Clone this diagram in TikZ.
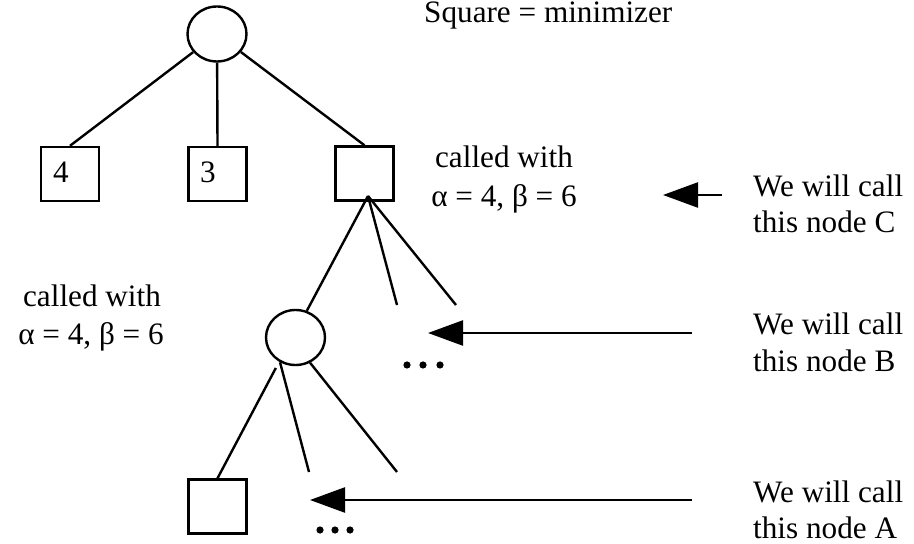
\documentclass[tikz,border=0pt]{standalone}
\usepackage{fontspec}
\setmainfont{Liberation Serif}
\usetikzlibrary{shapes.geometric,arrows.meta,calc}
\begin{document}
\begin{tikzpicture}[x=0.5pt,y=-0.5pt,line width=1.2pt,
  maxnode/.style={draw,ellipse,minimum width=29.5pt,minimum height=27.5pt,inner sep=0pt},
  minnode/.style={draw,rectangle,minimum width=29pt,minimum height=27pt,inner sep=0pt},
  txt/.style={inner sep=0pt,font=\fontsize{15.6pt}{18.5pt}\selectfont},
  edge/.style={line width=1.2pt},
  pointer/.style={line width=1.2pt,-{Triangle[length=17.5pt,width=12.5pt]}},
  dot/.style={fill=black}]
\useasboundingbox (0,0) rectangle (914,544);
% nodes
\node[maxnode] (root) at (217,34) {};
\node[minnode] (b4) at (70,174) {};
\node[minnode] (b3) at (217.5,174) {};
\node[minnode] (C) at (364.5,173.5) {};
\node[maxnode] (B) at (295.5,337.5) {};
\node[minnode] (A) at (217.5,506.5) {};
\node[txt,anchor=base west] (v4) at (52,183) {4};
\node[txt,anchor=base west] (v3) at (199,183) {3};
% texts
\node[txt,anchor=base west] (legend) at (423,23) {Square = minimizer};
\node[txt,anchor=base] (cw1) at (504,168) {called with};
\node[txt,anchor=base] (cw2) at (504,207) {α = 4, β = 6};
\node[txt,anchor=base] (cwl1) at (92,307) {called with};
\node[txt,anchor=base] (cwl2) at (91,345) {α = 4, β = 6};
\node[txt,anchor=base west] (lc1) at (752,197) {We will call};
\node[txt,anchor=base west] (lc2) at (752,233) {this node C};
\node[txt,anchor=base west] (lb1) at (752,335) {We will call};
\node[txt,anchor=base west] (lb2) at (752,372) {this node B};
\node[txt,anchor=base west] (la1) at (752,502) {We will call};
\node[txt,anchor=base west] (la2) at (752,538) {this node A};
% coordinates
\coordinate (cC) at (368,196);
\coordinate (e1) at (397,305);
\coordinate (e2) at (456,305);
\coordinate (e3) at (309,472);
\coordinate (e4) at (397,472);
\coordinate (tC) at (722,195);
\coordinate (hC) at (663,195);
\coordinate (tB) at (692,333);
\coordinate (hB) at (428,333);
\coordinate (tA) at (692,500);
\coordinate (hA) at (310,500);
% edges
\draw[edge] (root) -- (b4.north);
\draw[edge] (root) -- (b3.north);
\draw[edge] (root) -- (C.north);
\draw[edge] (cC) -- (B.67);
\draw[edge] (cC) -- (e1);
\draw[edge] (cC) -- (e2);
\draw[edge,shorten <=3.5pt] (B.236) -- (A.north);
\draw[edge] (B.238) -- (e3);
\draw[edge] (B.300) -- (e4);
% pointers
\draw[pointer] (tC) -- (hC);
\draw[pointer] (tB) -- (hB);
\draw[pointer] (tA) -- (hA);
% dots
\foreach \x in {407,423,440} \fill[dot] (\x,365) circle[radius=1.8pt];
\foreach \x in {320,335,350} \fill[dot] (\x,530) circle[radius=1.8pt];
\end{tikzpicture}
\end{document}
